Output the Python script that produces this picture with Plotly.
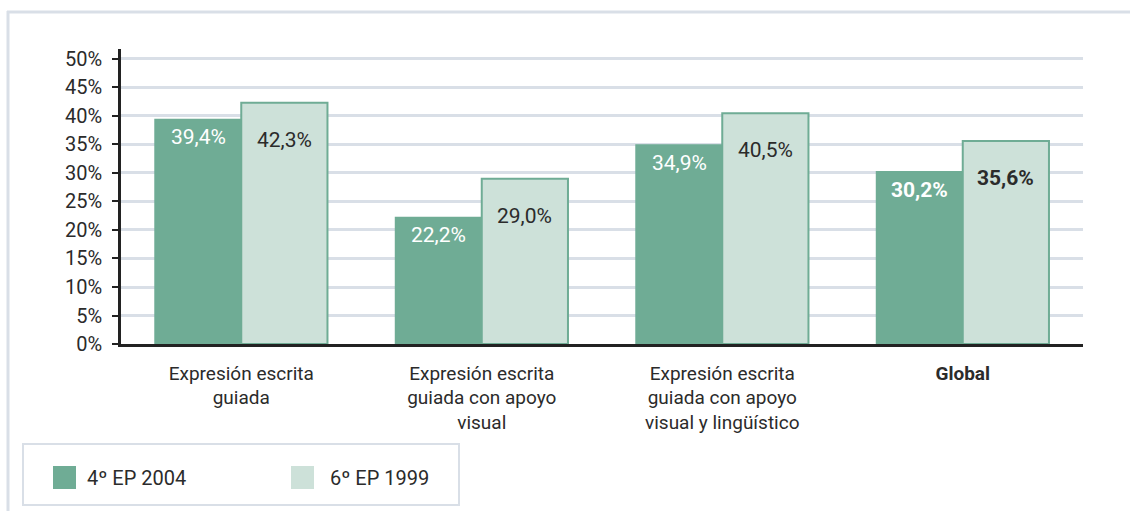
import plotly.graph_objects as go

categories = ["Expresión escrita<br>guiada",
              "Expresión escrita<br>guiada con apoyo<br>visual",
              "Expresión escrita<br>guiada con apoyo<br>visual y lingüístico",
              "<b>Global</b>"]
series_names = ["4º EP 2004", "6º EP 1999"]
values_2004 = [39.4, 22.2, 34.9, 30.2]
values_1999 = [42.3, 29.0, 40.5, 35.6]
labels_2004 = ["39,4%", "22,2%", "34,9%", "<b>30,2%</b>"]
labels_1999 = ["42,3%", "29,0%", "40,5%", "<b>35,6%</b>"]
tick_vals = [0, 5, 10, 15, 20, 25, 30, 35, 40, 45, 50]
tick_text = [f"{v}%" for v in tick_vals]

DARK = "#6fac95"
LIGHT = "#cde1d9"
GRID = "#d9dfe7"
TXT = "#2b2b2b"
FONT = "Roboto, Liberation Sans Narrow, sans-serif"

W, H = 1130, 511
L, R, T, B = 121, 47, 49, 167
pw, ph = W - L - R, H - T - B

def px(x):
    return (x - L) / pw

def py(y):
    return (H - B - y) / ph

fig = go.Figure()
fig.add_trace(go.Bar(x=categories, y=values_2004, name=series_names[0],
                     marker=dict(color=DARK, line=dict(color=DARK, width=1.5)),
                     showlegend=False, hoverinfo="skip"))
fig.add_trace(go.Bar(x=categories, y=values_1999, name=series_names[1],
                     marker=dict(color=LIGHT, line=dict(color=DARK, width=2)),
                     showlegend=False, hoverinfo="skip"))

annotations = []
for c, v, t in zip(categories, values_2004, labels_2004):
    annotations.append(dict(x=c, y=v, text=t, showarrow=False, xshift=-43, yshift=-18,
                            yanchor="middle", font=dict(color="white", size=21, family=FONT)))
for c, v, t in zip(categories, values_1999, labels_1999):
    annotations.append(dict(x=c, y=v, text=t, showarrow=False, xshift=43, yshift=-37,
                            yanchor="middle", font=dict(color=TXT, size=21, family=FONT)))

shapes = [
    # outer frame
    dict(type="line", xref="paper", yref="paper", x0=px(7), x1=px(1135), y0=py(12), y1=py(12),
         line=dict(color=GRID, width=3)),
    dict(type="line", xref="paper", yref="paper", x0=px(8), x1=px(8), y0=py(11), y1=py(515),
         line=dict(color=GRID, width=3)),
    # legend box
    dict(type="rect", xref="paper", yref="paper", x0=px(23), x1=px(459), y0=py(444), y1=py(505),
         line=dict(color=GRID, width=2), fillcolor="white"),
    dict(type="rect", xref="paper", yref="paper", x0=px(53), x1=px(76), y0=py(466), y1=py(489),
         line=dict(width=0), fillcolor=DARK),
    dict(type="rect", xref="paper", yref="paper", x0=px(291), x1=px(314), y0=py(466), y1=py(489),
         line=dict(width=0), fillcolor=LIGHT),
]
annotations.append(dict(xref="paper", yref="paper", x=px(85), y=py(478), text=series_names[0],
                        showarrow=False, xanchor="left", yanchor="middle",
                        font=dict(color=TXT, size=20, family=FONT)))
annotations.append(dict(xref="paper", yref="paper", x=px(328), y=py(478), text=series_names[1],
                        showarrow=False, xanchor="left", yanchor="middle",
                        font=dict(color=TXT, size=20, family=FONT)))

fig.update_layout(
    width=W, height=H,
    margin=dict(l=L, r=R, t=T, b=B, pad=0),
    paper_bgcolor="white", plot_bgcolor="white",
    barmode="group", bargap=0.283, bargroupgap=0,
    font=dict(family=FONT, color=TXT, size=19),
    annotations=annotations, shapes=shapes,
    showlegend=False,
)
fig.update_xaxes(showline=True, linecolor="#222222", linewidth=2.5, ticks="",
                 ticklabelstandoff=10,
                 tickfont=dict(size=19, family=FONT, color=TXT), showgrid=False)
fig.update_yaxes(range=[0, 51.75], tickvals=tick_vals, ticktext=tick_text,
                 showline=True, linecolor="#222222", linewidth=2.5,
                 ticks="outside", ticklen=6, tickwidth=2, tickcolor="#222222",
                 ticklabelstandoff=6,
                 showgrid=True, gridcolor=GRID, gridwidth=2.5, zeroline=False,
                 tickfont=dict(size=20, family=FONT, color=TXT))

fig.write_html("out.html", config={"displayModeBar": False},
               post_script="document.body.style.margin='0';")
